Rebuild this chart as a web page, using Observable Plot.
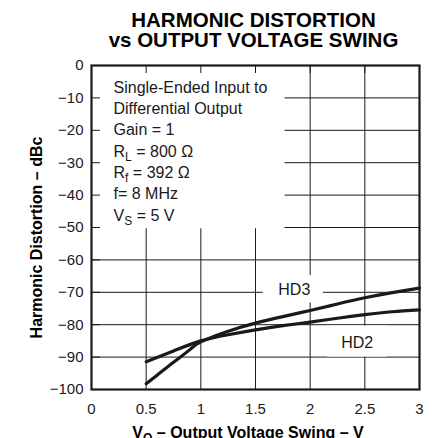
<!DOCTYPE html>
<html>
<head>
<meta charset="utf-8">
<script src="https://cdn.jsdelivr.net/npm/d3@7"></script>
<script src="https://cdn.jsdelivr.net/npm/@observablehq/plot@0.6"></script>
<style>
  html, body { margin: 0; padding: 0; background: #fff; }
</style>
</head>
<body>
<div id="chart"></div>
<script>
// ---- data ----
const titleLines = ["HARMONIC DISTORTION", "vs OUTPUT VOLTAGE SWING"];
const xTitle = "V_{O} – Output Voltage Swing – V";
const yTitle = "Harmonic Distortion – dBc";
const xTicks = [0, 0.5, 1, 1.5, 2, 2.5, 3];
const xTickLabels = ["0", "0.5", "1", "1.5", "2", "2.5", "3"];
const yTicks = [0, -10, -20, -30, -40, -50, -60, -70, -80, -90, -100];
const noteLines = [
  "Single-Ended Input to",
  "Differential Output",
  "Gain = 1",
  "R_{L} = 800 Ω",
  "R_{f} = 392 Ω",
  "f= 8 MHz",
  "V_{S} = 5 V"
];
const hd3Volts = [0.5, 0.6, 0.75, 0.9, 1.0, 1.25, 1.5, 1.75, 2.0, 2.25, 2.5, 2.75, 3.0];
const hd3Db    = [-98.2, -95.6, -91.6, -87.7, -85.3, -82.0, -79.5, -77.5, -75.6, -73.6, -71.7, -70.1, -68.7];
const hd2Volts = [0.5, 0.75, 1.0, 1.25, 1.5, 1.75, 2.0, 2.25, 2.5, 2.75, 3.0];
const hd2Db    = [-91.4, -88.1, -85.0, -83.1, -81.6, -80.3, -79.2, -78.0, -76.9, -76.0, -75.4];
// series labels (centre, in data units) and the white boxes behind them
const seriesLabels = [
  {name: "HD3", v: 1.855, db: -69.2, box: [1.57, 2.12, -73.3, -64.8]},
  {name: "HD2", v: 2.43, db: -85.6, box: [2.16, 2.70, -90.0, -80.4]}
];
// white note panel extent (data units)
const notePanel = [{x1: 0, x2: 1.77, y1: -50.4, y2: 0}];

// ---- tables ----
const hd3Rows = hd3Volts.map((v, i) => ({v, db: hd3Db[i]}));
const hd2Rows = hd2Volts.map((v, i) => ({v, db: hd2Db[i]}));
const labelBoxes = seriesLabels.map(d => ({x1: d.box[0], x2: d.box[1], y1: d.box[2], y2: d.box[3]}));
const xGrid = xTicks.filter(d => d > 0 && d < 3);
const yGrid = yTicks.filter(d => d < 0 && d > -100);

const ink = "#1a1a1a";
const font = "'Liberation Sans', Arial, Helvetica, sans-serif";

const chart = Plot.plot({
  width: 443,
  height: 438,
  marginTop: 65,
  marginLeft: 91,
  marginRight: 24,
  marginBottom: 49,
  style: {fontFamily: font, fontSize: "15px", background: "#fff", color: ink, overflow: "visible"},
  x: {domain: [0, 3], label: null},
  y: {domain: [-100, 0], label: null},
  marks: [
    // grid
    Plot.ruleX(xGrid, {stroke: ink, strokeWidth: 1}),
    Plot.ruleY(yGrid, {stroke: ink, strokeWidth: 1}),
    // white panels
    Plot.rect(notePanel, {x1: "x1", x2: "x2", y1: "y1", y2: "y2", fill: "#fff"}),
    Plot.rect(labelBoxes, {x1: "x1", x2: "x2", y1: "y1", y2: "y2", fill: "#fff"}),
    // inward ticks
    Plot.axisY({anchor: "left", ticks: yTicks, tickSize: 9, dx: 9, tickFormat: () => "", stroke: ink, label: null}),
    Plot.axisX({anchor: "top", ticks: xGrid, tickSize: 7, dy: 7, tickFormat: () => "", stroke: ink, label: null}),
    // tick labels
    Plot.axisY({anchor: "left", ticks: yTicks, tickSize: 0, tickPadding: 8, fontSize: 15, fill: ink, label: null}),
    Plot.axisX({anchor: "bottom", ticks: xTicks, tickSize: 0, tickPadding: 14, fontSize: 15, fill: ink, label: null,
      tickFormat: d => xTickLabels[xTicks.indexOf(d)]}),
    // curves
    Plot.line(hd2Rows, {x: "v", y: "db", curve: "natural", stroke: ink, strokeWidth: 3.2}),
    Plot.line(hd3Rows, {x: "v", y: "db", curve: "natural", stroke: ink, strokeWidth: 3.2}),
    // series labels
    Plot.text(seriesLabels, {x: "v", y: "db", text: "name", fontSize: 16, fill: ink, textAnchor: "middle", lineAnchor: "middle"}),
    // note lines
    ...noteLines.map((t, i) => Plot.text([t], {
      text: d => d, frameAnchor: "top-left", textAnchor: "start", lineAnchor: "bottom",
      dx: 22, dy: 27.3 + 21.3 * i, fontSize: 16, fill: ink
    })),
    // titles
    ...titleLines.map((t, i) => Plot.text([t], {
      text: d => d, frameAnchor: "top", textAnchor: "middle", lineAnchor: "bottom",
      dx: -2, dy: -38.3 + 20 * i, fontSize: 20.5, fontWeight: "bold", fill: "#000"
    })),
    Plot.text([xTitle], {text: d => d, frameAnchor: "bottom", textAnchor: "middle", lineAnchor: "bottom",
      dx: -7.5, dy: 48, fontSize: 16, fontWeight: "bold", fill: "#000"}),
    Plot.text([yTitle], {text: d => d, frameAnchor: "left", textAnchor: "middle", lineAnchor: "bottom",
      rotate: -90, dx: -49.5, dy: 10, fontSize: 16, fontWeight: "bold", fill: "#000"}),
    // frame
    Plot.frame({stroke: ink, strokeWidth: 2.2})
  ]
});

// subscripts: turn "X_{s}" into tspans
const NS = "http://www.w3.org/2000/svg";
chart.querySelectorAll("text").forEach(el => {
  if (el.querySelector("tspan")) return;
  const m = (el.textContent || "").match(/^(.*?)_\{(.*?)\}(.*)$/);
  if (!m) return;
  el.textContent = "";
  const a = document.createElementNS(NS, "tspan"); a.textContent = m[1]; el.appendChild(a);
  const b = document.createElementNS(NS, "tspan"); b.textContent = m[2];
  b.setAttribute("dy", "4"); b.setAttribute("font-size", "0.75em"); el.appendChild(b);
  const c = document.createElementNS(NS, "tspan"); c.textContent = m[3];
  c.setAttribute("dy", "-4"); el.appendChild(c);
});

document.getElementById("chart").appendChild(chart);
</script>
</body>
</html>
